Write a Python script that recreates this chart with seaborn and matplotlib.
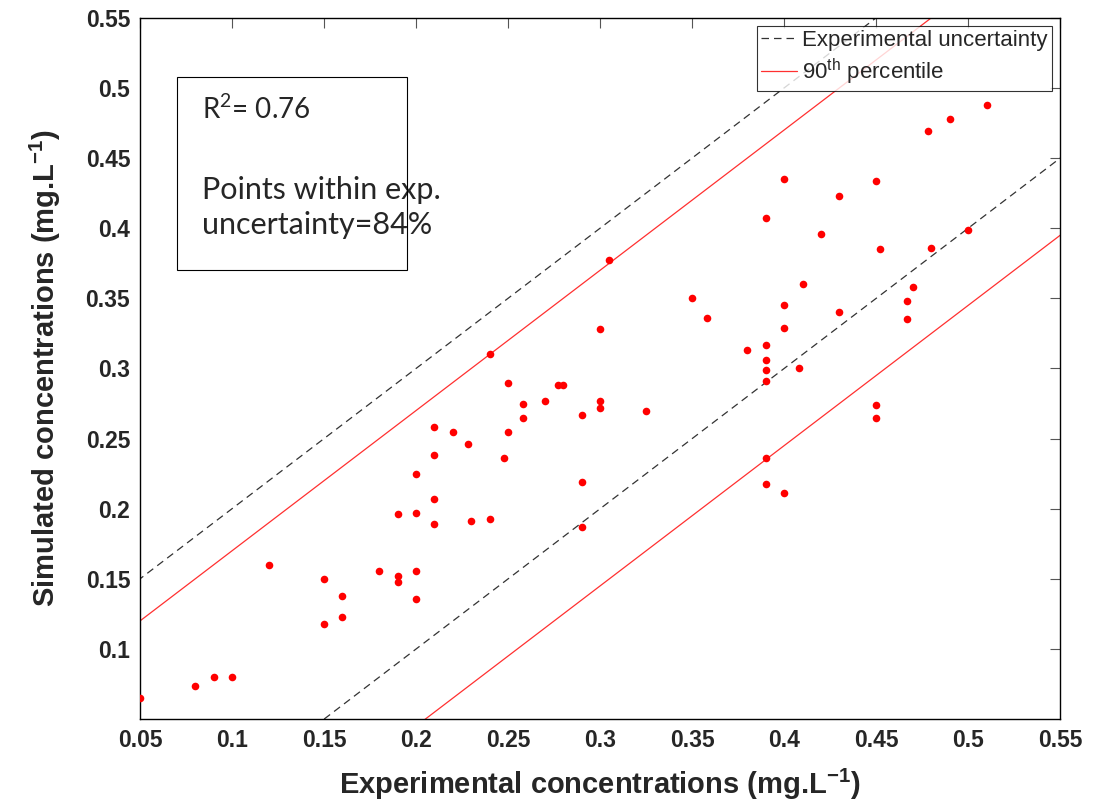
import numpy as np
import pandas as pd
import seaborn as sns
import matplotlib.pyplot as plt
from matplotlib.patches import Rectangle

experimental = [0.05, 0.08, 0.09, 0.10, 0.12,
                0.15, 0.15, 0.16, 0.16, 0.18,
                0.19, 0.19, 0.19, 0.20, 0.20, 0.20, 0.20,
                0.21, 0.21, 0.21, 0.21, 0.22, 0.228,
                0.23, 0.24, 0.24, 0.248, 0.25, 0.25,
                0.258, 0.258, 0.27, 0.277, 0.28,
                0.29, 0.29, 0.29, 0.30, 0.30, 0.30,
                0.305, 0.325, 0.35, 0.358, 0.38,
                0.39, 0.39, 0.39, 0.39, 0.39, 0.39, 0.39,
                0.40, 0.40, 0.40, 0.40, 0.408, 0.41,
                0.42, 0.43, 0.43, 0.45, 0.45, 0.45, 0.452,
                0.467, 0.467, 0.47, 0.478, 0.48, 0.49, 0.50, 0.51]
simulated = [0.065, 0.074, 0.080, 0.080, 0.160,
             0.150, 0.118, 0.138, 0.123, 0.156,
             0.152, 0.148, 0.196, 0.197, 0.156, 0.136, 0.225,
             0.207, 0.189, 0.258, 0.238, 0.255, 0.246,
             0.191, 0.193, 0.310, 0.236, 0.290, 0.255,
             0.275, 0.265, 0.277, 0.288, 0.288,
             0.267, 0.219, 0.187, 0.328, 0.277, 0.272,
             0.377, 0.270, 0.350, 0.336, 0.313,
             0.407, 0.317, 0.306, 0.299, 0.291, 0.236, 0.218,
             0.435, 0.345, 0.329, 0.211, 0.300, 0.360,
             0.396, 0.423, 0.340, 0.434, 0.274, 0.265, 0.385,
             0.348, 0.335, 0.358, 0.469, 0.386, 0.478, 0.399, 0.488]

# band offsets from the 1:1 line
unc_offsets = [0.10, -0.10]
p90_offsets = [0.07, -0.155]

ticks = [0.05, 0.1, 0.15, 0.2, 0.25, 0.3, 0.35, 0.4, 0.45, 0.5, 0.55]
tick_labels = ["0.05", "0.1", "0.15", "0.2", "0.25", "0.3", "0.35", "0.4", "0.45", "0.5", "0.55"]

df = pd.DataFrame({"exp": experimental, "sim": simulated})

sns.set_style("white")
plt.rcParams["font.family"] = ["Liberation Sans", "DejaVu Sans"]

fig = plt.figure(figsize=(10.93, 8.09), dpi=100)
ax = fig.add_axes([0.128, 0.111, 0.842, 0.867])

xx = np.array([0.0, 0.6])
for i, off in enumerate(unc_offsets):
    ax.plot(xx, xx + off, color="#333333", lw=0.9, ls=(0, (6, 4)),
            label="Experimental uncertainty" if i == 0 else None)
for i, off in enumerate(p90_offsets):
    ax.plot(xx, xx + off, color="#ff3030", lw=0.9,
            label="90$^{\\mathregular{th}}$ percentile" if i == 0 else None)

sns.scatterplot(data=df, x="exp", y="sim", color="red", s=30,
                edgecolor="red", linewidth=0, ax=ax, zorder=3)

ax.set_xlim(0.05, 0.55)
ax.set_ylim(0.05, 0.55)
ax.set_xticks(ticks)
ax.set_xticklabels(tick_labels)
ax.set_yticks(ticks[1:])
ax.set_yticklabels(tick_labels[1:])
ax.tick_params(direction="in", top=True, right=True, length=7, width=0.8,
               labelsize=16.5, pad=7, color="#555555")
for lab in ax.get_xticklabels() + ax.get_yticklabels():
    lab.set_fontweight("bold")
for sp in ax.spines.values():
    sp.set_color("black")
    sp.set_linewidth(1.0)

ax.set_xlabel("Experimental concentrations (mg.L$^{\\mathregular{-1}}$)",
              fontsize=21, fontweight="bold", labelpad=11)
ax.set_ylabel("Simulated concentrations (mg.L$^{\\mathregular{-1}}$)",
              fontsize=21, fontweight="bold", labelpad=16)

leg = ax.legend(loc="upper right", fontsize=16, frameon=True, fancybox=False,
                edgecolor="black", borderaxespad=0.35, handlelength=1.6,
                handletextpad=0.25, borderpad=0.2, labelspacing=0.25)
leg.get_frame().set_linewidth(0.8)

# annotation box
ax.add_patch(Rectangle((0.040, 0.640), 0.250, 0.276, transform=ax.transAxes,
                       fill=False, edgecolor="black", lw=0.8, zorder=4))
ax.text(0.068, 0.870, "R$^{\\mathregular{2}}$= 0.76", transform=ax.transAxes,
        fontsize=20, family=["Lato", "DejaVu Sans"], va="center")
ax.text(0.068, 0.730, "Points within exp.\nuncertainty=84%", transform=ax.transAxes,
        fontsize=22, family=["Lato", "DejaVu Sans"], va="center", linespacing=1.3)

fig.savefig("out.png", dpi=100)
plt.close(fig)
